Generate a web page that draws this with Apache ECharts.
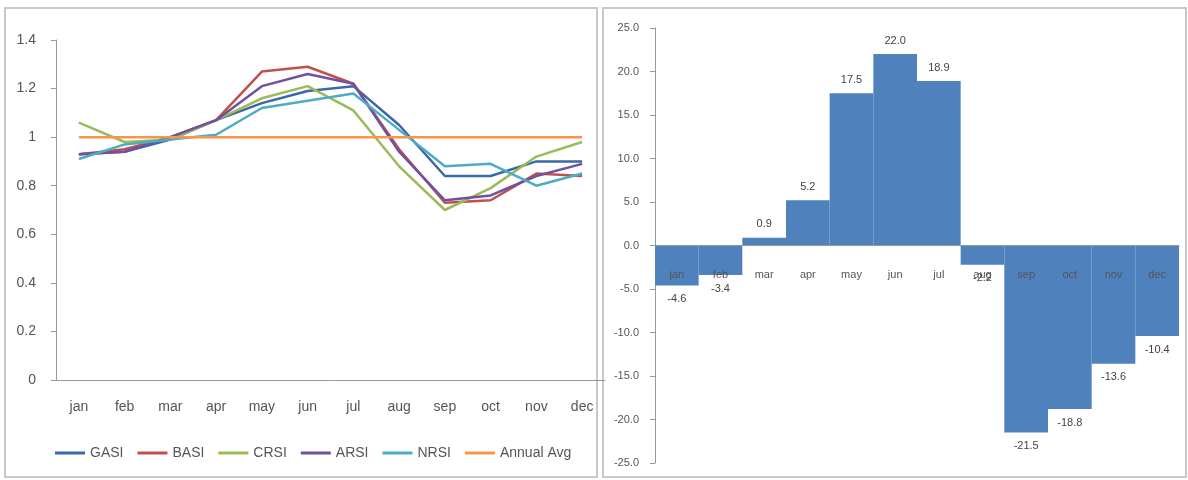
<!DOCTYPE html>
<html>
<head>
<meta charset="utf-8" />
<script src="https://cdn.jsdelivr.net/npm/echarts@6/dist/echarts.min.js"></script>
<style>body{margin:0;background:#fff}</style>
</head>
<body>
<div id="main" style="width:1188px;height:480px"></div>
<script>
var months = ["jan","feb","mar","apr","may","jun","jul","aug","sep","oct","nov","dec"];
var gasi = [0.93,0.94,0.99,1.07,1.14,1.19,1.21,1.05,0.84,0.84,0.90,0.90];
var basi = [0.93,0.95,1.00,1.07,1.27,1.29,1.22,0.95,0.73,0.74,0.85,0.84];
var crsi = [1.06,0.98,0.99,1.07,1.16,1.21,1.11,0.88,0.70,0.79,0.92,0.98];
var arsi = [0.93,0.94,1.00,1.07,1.21,1.26,1.22,0.94,0.74,0.76,0.84,0.89];
var nrsi = [0.91,0.97,0.99,1.01,1.12,1.15,1.18,1.03,0.88,0.89,0.80,0.85];
var annualAvg = [1,1,1,1,1,1,1,1,1,1,1,1];
var deviation = [-4.6,-3.4,0.9,5.2,17.5,22.0,18.9,-2.2,-21.5,-18.8,-13.6,-10.4];

var font = "Liberation Sans Narrow, Liberation Sans, sans-serif";
var myChart = echarts.init(document.getElementById("main"));

function line(name, data, color) {
  return {
    name: name, type: "line", data: data, xAxisIndex: 0, yAxisIndex: 0,
    symbol: "none", lineStyle: { width: 2.5, color: color }, itemStyle: { color: color }
  };
}

var option = {
  animation: false,
  graphic: [
    { type: "rect", shape: { x: 5, y: 8, width: 592, height: 469 }, style: { fill: "none", stroke: "#c8c8c8", lineWidth: 2 } },
    { type: "rect", shape: { x: 603, y: 8, width: 583, height: 469 }, style: { fill: "none", stroke: "#c8c8c8", lineWidth: 2 } }
  ],
  legend: {
    left: 50, top: 441, itemWidth: 30, itemHeight: 3, itemGap: 14, icon: "rect",
    textStyle: { fontFamily: font, fontSize: 14, color: "#555" },
    data: ["GASI","BASI","CRSI","ARSI","NRSI","Annual Avg"]
  },
  grid: [
    { left: 56, top: 40, width: 549, height: 340 },
    { left: 655, top: 28, width: 524, height: 435 }
  ],
  xAxis: [
    {
      type: "category", gridIndex: 0, data: months, boundaryGap: true,
      axisLine: { lineStyle: { color: "#999" } },
      axisTick: { lineStyle: { color: "#999" }, length: 6 },
      axisLabel: { color: "#555", fontFamily: font, fontSize: 14, margin: 20 }
    },
    {
      type: "category", gridIndex: 1, data: months, z: 5, offset: -218,
      axisLine: { onZero: false, lineStyle: { color: "#999" } },
      axisTick: { show: false },
      axisLabel: { color: "#555", fontFamily: font, fontSize: 11, margin: 24 }
    }
  ],
  yAxis: [
    {
      type: "value", gridIndex: 0, min: 0, max: 1.4, interval: 0.2, splitLine: { show: false },
      axisLine: { show: true, lineStyle: { color: "#999" } },
      axisTick: { show: true, lineStyle: { color: "#999" } },
      axisLabel: { color: "#555", fontFamily: font, fontSize: 14, margin: 20 }
    },
    {
      type: "value", gridIndex: 1, min: -25, max: 25, interval: 5, splitLine: { show: false },
      axisLine: { show: true, lineStyle: { color: "#999" } },
      axisTick: { show: true, lineStyle: { color: "#999" } },
      axisLabel: { color: "#555", fontFamily: font, fontSize: 11, margin: 16,
        formatter: function (v) { return v.toFixed(1); } }
    }
  ],
  series: [
    line("GASI", gasi, "#3a68a8"),
    line("BASI", basi, "#c0504d"),
    line("CRSI", crsi, "#9bbb59"),
    line("ARSI", arsi, "#7050a0"),
    line("NRSI", nrsi, "#4bacc6"),
    line("Annual Avg", annualAvg, "#f79646"),
    {
      type: "bar", xAxisIndex: 1, yAxisIndex: 1, barCategoryGap: "0%",
      itemStyle: { color: "#4f81bd" },
      data: deviation.map(function (v) {
        return { value: v, label: { position: v >= 0 ? "top" : "bottom" } };
      }),
      label: {
        show: true, color: "#444", fontFamily: font, fontSize: 11, distance: 8,
        formatter: function (p) { return p.value.toFixed(1); }
      }
    }
  ]
};
myChart.setOption(option);
</script>
</body>
</html>
